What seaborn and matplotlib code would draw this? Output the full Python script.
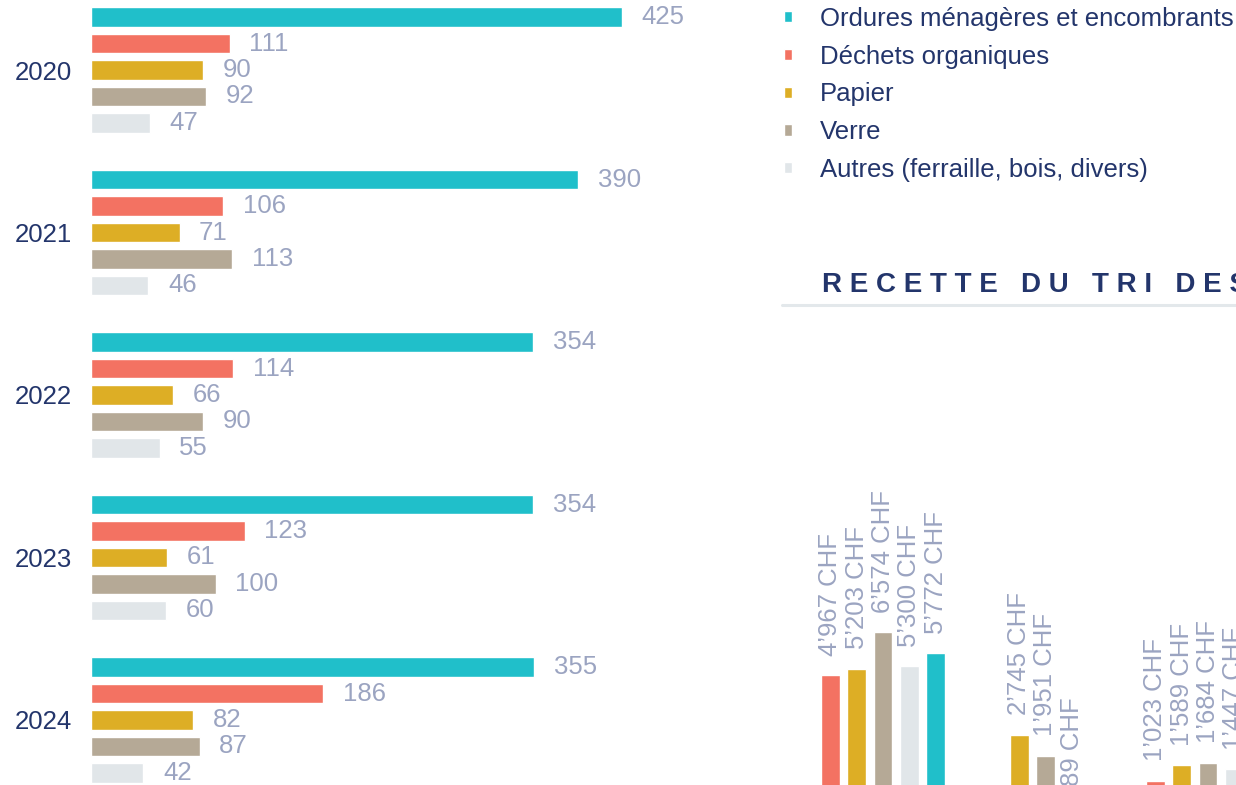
import pandas as pd
import matplotlib.pyplot as plt
import seaborn as sns
from matplotlib.lines import Line2D

# données : tonnes de déchets par année
annees = ["2020", "2021", "2022", "2023", "2024"]
types_dechets = [
    "Ordures ménagères et encombrants",
    "Déchets organiques",
    "Papier",
    "Verre",
    "Autres (ferraille, bois, divers)",
]
ordures = [425, 390, 354, 354, 355]
organiques = [111, 106, 114, 123, 186]
papier = [90, 71, 66, 61, 82]
verre = [92, 113, 90, 100, 87]
autres = [47, 46, 55, 60, 42]

# recette du tri (CHF) : groupes visibles seulement en partie
groupes_recette = ["Groupe 1", "Groupe 1", "Groupe 1", "Groupe 1", "Groupe 1",
                   "Groupe 2", "Groupe 2", "Groupe 2",
                   "Groupe 3", "Groupe 3", "Groupe 3", "Groupe 3"]
series_recette = ["Déchets organiques", "Papier", "Verre", "Autres (ferraille, bois, divers)",
                  "Ordures ménagères et encombrants",
                  "Papier", "Verre", "Autres (ferraille, bois, divers)",
                  "Déchets organiques", "Papier", "Verre", "Autres (ferraille, bois, divers)"]
valeurs_recette = [4967, 5203, 6574, 5300, 5772,
                   2745, 1951, 89,
                   1023, 1589, 1684, 1447]

couleurs = {
    "Ordures ménagères et encombrants": "#20bfca",
    "Déchets organiques": "#f37262",
    "Papier": "#ddae25",
    "Verre": "#b5a996",
    "Autres (ferraille, bois, divers)": "#e1e6e9",
}
NAVY = "#23356b"
GRIS = "#9ba4c1"
TAILLE = 18.5

sns.set_style("white")
plt.rcParams["font.family"] = ["Liberation Sans", "DejaVu Sans"]

df = pd.DataFrame({
    "Année": annees * 5,
    "Type": [t for t in types_dechets for _ in annees],
    "Tonnes": ordures + organiques + papier + verre + autres,
})

fig = plt.figure(figsize=(12.36, 7.85), dpi=100)
W, H = 1236, 785

# --- graphique de gauche : barres horizontales
ax = fig.add_axes([91 / W, 0, 600 / W, 1])
sns.barplot(data=df, y="Année", x="Tonnes", hue="Type", hue_order=types_dechets,
            palette=couleurs, saturation=1, orient="h", width=0.815, gap=0.28, ax=ax)
ax.get_legend().remove()
ax.set_xlim(0, 600 / 1.249)
ax.set_ylim(4 + 65 / 162.5, -70 / 162.5)
for c in ax.containers:
    ax.bar_label(c, padding=14, color=GRIS, fontsize=TAILLE)
ax.set_xlabel("")
ax.set_ylabel("")
ax.set_xticks([])
ax.tick_params(axis="y", length=0, pad=13.5, labelsize=TAILLE, labelcolor=NAVY)
sns.despine(ax=ax, left=True, bottom=True)

# --- légende
handles, labels = ax.get_legend_handles_labels()
leg = fig.legend(handles, labels, loc="upper left", bbox_to_anchor=(784 / W, 1 - 7 / H),
                 frameon=False, fontsize=TAILLE, handlelength=0.3, handleheight=0.3,
                 handletextpad=1.1, labelspacing=0.535, borderpad=0, borderaxespad=0)
for t in leg.get_texts():
    t.set_color(NAVY)

# --- titre et trait
fig.text(822 / W, 1 - 292 / H, "R E C E T T E   D U   T R I   D E S", fontsize=20,
         fontweight="bold", color=NAVY, va="baseline", ha="left")
fig.add_artist(Line2D([782 / W, 1], [1 - 305 / H, 1 - 305 / H], color="#e3e8eb",
                      lw=2.2, transform=fig.transFigure))

# --- graphique de droite : recette
df_r = pd.DataFrame({"Groupe": groupes_recette, "Série": series_recette,
                     "CHF": valeurs_recette})
ordre_r = ["Déchets organiques", "Papier", "Verre", "Autres (ferraille, bois, divers)",
           "Ordures ménagères et encombrants"]
ax2 = fig.add_axes([782 / W, -23 / H, 454 / W, 478 / H])
sns.barplot(data=df_r, x="Groupe", y="CHF", hue="Série", hue_order=ordre_r,
            order=["Groupe 1", "Groupe 2", "Groupe 3"], palette=couleurs, saturation=1,
            width=0.81, gap=0.28, legend=False, ax=ax2)
ax2.set_xlim((782 - 883) / 162.5, (1236 - 883) / 162.5)
ax2.set_ylim(0, 478 / 0.02677)
for c in ax2.containers:
    ax2.bar_label(c, fmt=lambda v: f"{v:,.0f}".replace(",", "\u2019") + " CHF",
                  padding=14, rotation=90, color=GRIS, fontsize=TAILLE)
ax2.set_xlabel("")
ax2.set_ylabel("")
ax2.set_xticks([])
ax2.set_yticks([])
sns.despine(ax=ax2, left=True, bottom=True)

fig.savefig("out.png", dpi=100)
